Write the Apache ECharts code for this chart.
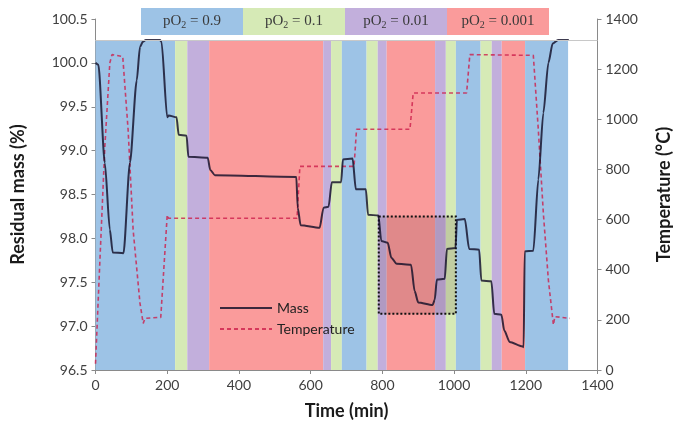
<!DOCTYPE html>
<html>
<head>
<meta charset="utf-8">
<script src="https://cdn.jsdelivr.net/npm/echarts@6/dist/echarts.min.js"></script>
<style>
  html, body { margin: 0; padding: 0; background: #fff; }
  #chart { width: 686px; height: 436px; }
</style>
</head>
<body>
<div id="chart"></div>
<script>
// Oxygen partial pressure levels and their band colours
const po2Levels = ['0.9', '0.1', '0.01', '0.001'];
const po2Colors = ['#9dc3e6', '#d6eab6', '#c2afdc', '#fa9b9b'];

// Gas switching schedule: band edges (min) and pO2 held in each interval
const bandEdges = [0, 222, 256, 317, 635, 657, 687, 756, 787, 812, 947, 977, 1005, 1074, 1105, 1133, 1198, 1318];
const bandLevel = ['0.9', '0.1', '0.01', '0.001', '0.01', '0.1', '0.9', '0.1', '0.01', '0.001', '0.01', '0.1', '0.9', '0.1', '0.01', '0.001', '0.9'];

// Highlighted region (time range and mass range)
const boxTime = [790, 1005];
const boxMass = [98.25, 97.14];

// Residual mass (%) vs time (min)
const massTime = [0, 8, 26, 40, 48, 78, 96, 115, 124, 132, 140, 180, 184, 200, 204, 226, 232, 254, 259, 313, 320, 333, 560, 564, 572, 625, 636, 650, 659, 685, 690, 717, 726, 754, 760, 789, 797, 815, 825, 840, 880, 890, 900, 940, 946, 952, 974, 980, 1004, 1008, 1030, 1042, 1070, 1076, 1104, 1112, 1132, 1140, 1155, 1190, 1194, 1197, 1221, 1235, 1249, 1263, 1275, 1290, 1320];
const massValue = [100.0, 99.98, 98.86, 98.1, 97.84, 97.83, 98.86, 99.8, 100.18, 100.24, 100.26, 100.26, 100.24, 99.38, 99.40, 99.38, 99.18, 99.17, 98.93, 98.92, 98.78, 98.72, 98.70, 98.35, 98.15, 98.12, 98.35, 98.36, 98.64, 98.64, 98.90, 98.91, 98.56, 98.56, 98.27, 98.26, 97.97, 97.95, 97.78, 97.71, 97.70, 97.40, 97.27, 97.24, 97.30, 97.53, 97.54, 97.88, 97.89, 98.21, 98.22, 97.88, 97.87, 97.52, 97.51, 97.14, 97.13, 96.95, 96.82, 96.77, 96.76, 97.85, 97.86, 98.67, 99.43, 100.0, 100.22, 100.26, 100.26];

// Furnace temperature (°C) vs time (min)
const tempTime = [0, 12, 26, 40, 46, 76, 78, 91, 105, 124, 133, 138, 182, 200, 204, 562, 570, 721, 728, 877, 886, 1035, 1044, 1221, 1235, 1249, 1263, 1277, 1281, 1323];
const tempValue = [25, 427, 891, 1225, 1258, 1250, 1248, 957, 558, 267, 186, 206, 210, 618, 605, 605, 812, 812, 960, 960, 1105, 1105, 1258, 1255, 957, 625, 359, 180, 213, 206];

// Axis ranges and tick spacing
const timeRange = [0, 1400, 200];
const massRange = [96.5, 100.5, 0.5];
const tempRange = [0, 1400, 200];
const bandTop = 100.26;

const levelColor = lv => po2Colors[po2Levels.indexOf(lv)];

const bandAreas = bandLevel.map((lv, i) => [
  { coord: [bandEdges[i], bandTop], itemStyle: { color: levelColor(lv) } },
  { coord: [bandEdges[i + 1], massRange[0]] }
]);

const massData = massTime.map((t, i) => [t, massValue[i]]);
const tempData = tempTime.map((t, i) => [t, tempValue[i]]);

// Header key for the pO2 colours
const keyLeft = 141, keyTop = 8, keyW = 102, keyH = 27;
const keyGraphics = po2Levels.map((lv, i) => ({
  type: 'group',
  left: keyLeft + i * keyW,
  top: keyTop,
  children: [
    { type: 'rect', shape: { x: 0, y: 0, width: keyW, height: keyH }, style: { fill: po2Colors[i] } },
    {
      type: 'text',
      x: keyW / 2, y: keyH / 2,
      style: {
        text: '{a|pO}{s|2}{a| = ' + lv + '}',
        align: 'center', verticalAlign: 'middle',
        rich: {
          a: { fontFamily: 'Liberation Serif', fontSize: 15, fill: '#3a3a3a' },
          s: { fontFamily: 'Liberation Serif', fontSize: 10, fill: '#3a3a3a', padding: [8, 0, 0, 0] }
        }
      }
    }
  ]
}));

const plain = v => String(v);
const labelFont = { fontFamily: 'Lato', fontSize: 14, color: '#404040' };
const titleFont = { fontFamily: 'Lato', fontSize: 18, fontWeight: 'bold', color: '#1a1a1a' };
const axisGray = '#8a8a8a';

const chart = echarts.init(document.getElementById('chart'), null, { renderer: 'canvas' });
chart.setOption({
  animation: false,
  backgroundColor: '#fff',
  grid: { left: 95.5, right: 88.5, top: 19, bottom: 66 },
  legend: {
    data: ['Mass', 'Temperature'],
    orient: 'vertical',
    left: 214, top: 296,
    itemWidth: 52, itemHeight: 14, itemGap: 7,
    itemStyle: { color: 'transparent', borderColor: 'transparent', borderWidth: 0 },
    textStyle: { fontFamily: 'Lato', fontSize: 14, color: '#222' }
  },
  xAxis: {
    type: 'value',
    min: timeRange[0], max: timeRange[1], interval: timeRange[2],
    name: 'Time (min)', nameLocation: 'middle', nameGap: 32,
    nameTextStyle: titleFont,
    axisLine: { lineStyle: { color: axisGray } },
    axisTick: { show: true, length: 4, lineStyle: { color: axisGray } },
    axisLabel: Object.assign({ margin: 8, formatter: plain }, labelFont),
    splitLine: { show: false }
  },
  yAxis: [
    {
      type: 'value', position: 'left',
      min: massRange[0], max: massRange[1], interval: massRange[2],
      name: 'Residual mass (%)', nameLocation: 'middle', nameRotate: 90, nameGap: 68,
      nameTextStyle: titleFont,
      axisLine: { show: true, lineStyle: { color: axisGray } },
      axisTick: { show: true, length: 4, lineStyle: { color: axisGray } },
      axisLabel: Object.assign({ margin: 8, formatter: v => v.toFixed(1) }, labelFont),
      splitLine: { show: false }
    },
    {
      type: 'value', position: 'right',
      min: tempRange[0], max: tempRange[1], interval: tempRange[2],
      name: 'Temperature (°C)', nameLocation: 'middle', nameRotate: 90, nameGap: 58,
      nameTextStyle: titleFont,
      axisLine: { show: true, lineStyle: { color: axisGray } },
      axisTick: { show: true, length: 4, lineStyle: { color: axisGray } },
      axisLabel: Object.assign({ margin: 8, formatter: plain }, labelFont),
      splitLine: { show: false }
    }
  ],
  graphic: keyGraphics,
  series: [
    {
      name: 'bands', type: 'line', yAxisIndex: 0, z: 1, silent: true,
      data: [], symbol: 'none',
      markArea: { silent: true, data: bandAreas },
      markLine: {
        silent: true, symbol: 'none', label: { show: false },
        lineStyle: { color: '#c8c8c8', width: 1, type: 'solid' },
        data: [{ yAxis: bandTop }]
      }
    },
    {
      name: 'box', type: 'line', yAxisIndex: 0, z: 2, silent: true,
      data: [], symbol: 'none',
      markArea: {
        silent: true,
        itemStyle: { color: 'rgba(70,25,35,0.14)', borderColor: '#111', borderWidth: 2, borderType: [2, 2] },
        data: [[{ coord: [boxTime[0], boxMass[0]] }, { coord: [boxTime[1], boxMass[1]] }]]
      }
    },
    {
      name: 'Temperature', type: 'line', yAxisIndex: 1, z: 3,
      data: tempData, symbol: 'none', showSymbol: false,
      itemStyle: { color: 'rgba(205,30,75,0.85)' },
      lineStyle: { color: 'rgba(205,30,75,0.8)', width: 1.6, type: [4, 3] }
    },
    {
      name: 'Mass', type: 'line', yAxisIndex: 0, z: 4,
      data: massData, symbol: 'none', showSymbol: false,
      smooth: 0.25, smoothMonotone: 'x',
      itemStyle: { color: '#15152a' },
      lineStyle: { color: 'rgba(18,15,40,0.82)', width: 2 }
    }
  ]
});
</script>
</body>
</html>
